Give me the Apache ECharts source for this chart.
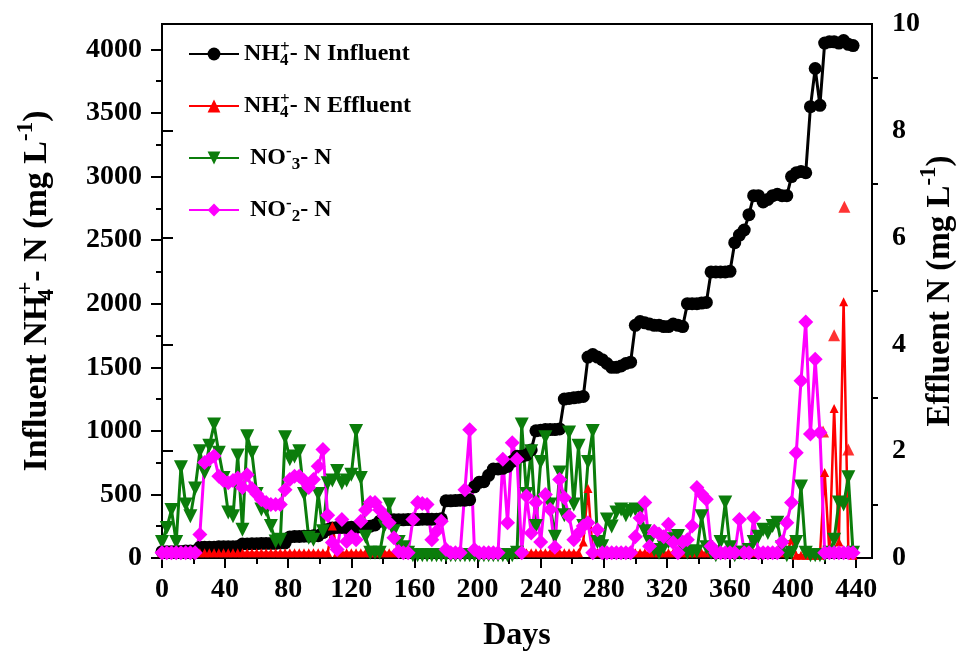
<!DOCTYPE html>
<html>
<head>
<meta charset="utf-8">
<script src="https://cdn.jsdelivr.net/npm/echarts@6/dist/echarts.min.js"></script>
<style>
html, body { margin: 0; padding: 0; background: #fff; }
#chart { width: 962px; height: 661px; }
</style>
</head>
<body>
<div id="chart"></div>
<script>
// sampling days (x)
var days = [
  0, 3, 6, 9, 12, 15, 18, 21, 24, 27,
  30, 33, 36, 39, 42, 45, 48, 51, 54, 57,
  60, 63, 66, 69, 72, 75, 78, 81, 84, 87,
  90, 93, 96, 99, 102, 105, 108, 111, 114, 117,
  120, 123, 126, 129, 132, 135, 138, 141, 144, 147,
  150, 153, 156, 159, 162, 165, 168, 171, 174, 177,
  180, 183, 186, 189, 192, 195, 198, 201, 204, 207,
  210, 213, 216, 219, 222, 225, 228, 231, 234, 237,
  240, 243, 246, 249, 252, 255, 258, 261, 264, 267,
  270, 273, 276, 279, 282, 285, 288, 291, 294, 297,
  300, 303, 306, 309, 312, 315, 318, 321, 324, 327,
  330, 333, 336, 339, 342, 345, 348, 351, 354, 357,
  360, 363, 366, 369, 372, 375, 378, 381, 384, 387,
  390, 393, 396, 399, 402, 405, 408, 411, 414, 417,
  420, 423, 426, 429, 432, 435, 438
];

// NH4+-N influent, mg/L (left axis)
var influentNH4 = [
  50, 50, 50, 52, 52, 55, 55, 55, 85, 85,
  85, 85, 88, 88, 88, 88, 90, 110, 110, 112,
  112, 115, 115, 115, 115, 118, 118, 165, 170, 170,
  172, 172, 175, 175, 200, 225, 235, 240, 240, 240,
  242, 242, 245, 245, 250, 260, 290, 295, 298, 300,
  300, 300, 302, 302, 302, 305, 305, 305, 305, 308,
  450, 450, 452, 455, 455, 458, 560, 595, 600, 650,
  700, 700, 705, 720, 760, 800, 800, 810, 850, 1000,
  1005, 1010, 1010, 1010, 1015, 1250, 1255, 1260, 1265, 1270,
  1580, 1600, 1580, 1560, 1530, 1500, 1500, 1510, 1530, 1540,
  1830, 1860, 1850, 1840, 1830, 1830, 1820, 1820, 1840, 1830,
  1820, 2000, 2000, 2000, 2005, 2010, 2250, 2250, 2250, 2250,
  2255, 2480, 2540, 2580, 2700, 2850, 2850, 2800, 2820, 2850,
  2860, 2850, 2850, 3000, 3030, 3040, 3030, 3550, 3850, 3560,
  4050, 4060, 4060, 4050, 4070, 4040, 4030
];

// NH4+-N effluent, mg/L (right axis)
var effluentNH4 = [
  0.1, 0.1, 0.1, 0.1, 0.1, 0.1, 0.1, 0.1, 0.1, 0.1,
  0.1, 0.1, 0.1, 0.1, 0.1, 0.1, 0.1, 0.1, 0.1, 0.1,
  0.1, 0.1, 0.1, 0.1, 0.1, 0.1, 0.1, 0.1, 0.1, 0.1,
  0.1, 0.1, 0.1, 0.1, 0.1, 0.1, 0.6, 0.1, 0.1, 0.1,
  0.1, 0.1, 0.1, 0.1, 0.1, 0.1, 0.1, 0.1, 0.1, 0.1,
  0.1, 0.1, 0.1, 0.1, 0.1, 0.1, 0.1, 0.1, 0.1, 0.1,
  0.1, 0.1, 0.1, 0.1, 0.1, 0.1, 0.1, 0.1, 0.1, 0.1,
  0.1, 0.1, 0.1, 0.1, 0.1, 0.1, 0.1, 0.1, 0.1, 0.1,
  0.1, 0.1, 0.1, 0.1, 0.1, 0.1, 0.1, 0.1, 0.1, 0.3,
  1.3, 0.1, 0.1, 0.1, 0.1, 0.1, 0.1, 0.1, 0.1, 0.1,
  0.1, 0.1, 0.1, 0.1, 0.1, 0.1, 0.1, 0.1, 0.1, 0.1,
  0.1, 0.1, 0.1, 0.1, 0.1, 0.1, 0.1, 0.1, 0.1, 0.1,
  0.1, 0.1, 0.1, 0.1, 0.1, 0.1, 0.1, 0.1, 0.1, 0.1,
  0.1, 0.1, 0.1, 0.34, 0.05, 0.05, 0.05, 0.05, 0.05, 0.05,
  1.6, 0.1, 2.8, 0.3, 4.8, 0.1, 0.05
];

// isolated effluent NH4+ points near the end
var effluentPeakDays = [419, 426, 432.5, 435];
var effluentPeakValues = [2.37, 4.17, 6.58, 2.03];

// NO3- -N, mg/L (right axis)
var nitrate = [
  0.3, 0.56, 0.9, 0.3, 1.7, 1.0, 0.78, 1.3, 2.0, 1.6,
  2.1, 2.5, 1.97, 1.5, 0.85, 0.78, 1.92, 0.53, 2.28, 1.97,
  1.2, 0.91, 0.9, 0.6, 0.31, 0.34, 2.26, 1.85, 1.9, 2.0,
  1.2, 0.38, 0.34, 1.2, 0.5, 1.4, 1.45, 1.63, 1.4, 1.45,
  1.56, 2.38, 1.5, 0.4, 0.1, 0.1, 0.1, 0.6, 1.0, 0.5,
  0.3, 0.2, 0.1, 0.05, 0.05, 0.05, 0.05, 0.05, 0.05, 0.05,
  0.05, 0.05, 0.05, 0.05, 0.05, 0.05, 0.05, 0.05, 0.05, 0.05,
  0.05, 0.05, 0.05, 0.05, 0.05, 0.1, 2.5, 1.2, 2.0, 0.6,
  1.8, 2.26, 1.0, 0.4, 1.6, 0.8, 2.35, 1.0, 2.1, 0.6,
  1.8, 2.38, 0.3, 0.22, 0.72, 0.59, 0.85, 0.91, 0.8, 0.88,
  0.91, 0.9, 0.5, 0.3, 0.15, 0.1, 0.2, 0.3, 0.35, 0.41,
  0.2, 0.1, 0.12, 0.12, 0.78, 0.2, 0.1, 0.05, 0.3, 1.04,
  0.2, 0.05, 0.1, 0.1, 0.15, 0.3, 0.4, 0.53, 0.47, 0.6,
  0.66, 0.2, 0.05, 0.1, 0.3, 1.34, 0.1, 0.05, 0.05, 0.05,
  0.05, 0.1, 0.34, 1.04, 1.0, 1.51, 0.1
];

// NO2- -N, mg/L (right axis)
var nitrite = [
  0.1, 0.1, 0.1, 0.1, 0.1, 0.1, 0.1, 0.1, 0.44, 1.79,
  1.85, 1.91, 1.53, 1.45, 1.41, 1.45, 1.5, 1.32, 1.56, 1.3,
  1.2, 1.09, 1.04, 1.0, 1.0, 1.0, 1.28, 1.47, 1.53, 1.53,
  1.45, 1.32, 1.47, 1.72, 2.03, 0.8, 0.29, 0.16, 0.72, 0.31,
  0.4, 0.34, 0.69, 0.9, 1.04, 1.04, 0.9, 0.78, 0.66, 0.38,
  0.12, 0.1, 0.1, 0.72, 1.04, 1.02, 1.0, 0.34, 0.5, 0.69,
  0.16, 0.1, 0.1, 0.1, 1.28, 2.4, 0.16, 0.1, 0.1, 0.1,
  0.1, 0.1, 1.85, 0.66, 2.16, 1.85, 0.1, 1.16, 0.47, 1.04,
  0.3, 1.19, 0.91, 0.2, 1.47, 1.13, 0.78, 0.34, 0.47, 0.6,
  0.66, 0.1, 0.53, 0.1, 0.1, 0.1, 0.1, 0.1, 0.1, 0.1,
  0.4, 0.75, 1.04, 0.22, 0.5, 0.45, 0.4, 0.63, 0.29, 0.1,
  0.3, 0.34, 0.6, 1.32, 1.2, 1.1, 0.22, 0.1, 0.1, 0.1,
  0.1, 0.1, 0.72, 0.1, 0.1, 0.75, 0.1, 0.1, 0.1, 0.1,
  0.1, 0.3, 0.66, 1.04, 1.97, 3.32, 4.42, 2.32, 3.72, 2.35,
  0.1, 0.1, 0.1, 0.1, 0.1, 0.1, 0.1
];

// tick values
var xMajorTicks = [0, 40, 80, 120, 160, 200, 240, 280, 320, 360, 400, 440];
var xMinorTicks = [20, 60, 100, 140, 180, 220, 260, 300, 340, 380, 420];
var leftMajorTicks = [0, 500, 1000, 1500, 2000, 2500, 3000, 3500, 4000];
var leftMinorTicks = [250, 750, 1250, 1750, 2250, 2750, 3250, 3750];
var rightMajorTicks = [0, 2, 4, 6, 8, 10];
var rightMinorTicks = [1, 3, 5, 7, 9];

var FONT = '"Liberation Serif", "Times New Roman", serif';

var pairs = function(xs, ys) {
	return xs.map(function(x, i) { return [x, ys[i]]; });
};

// rich text pieces for sub/superscripts
var richFor = function(sub) {
	return {
		sp: { fontFamily: FONT, fontWeight: 'bold', fontSize: sub, lineHeight: sub, verticalAlign: 'top', color: '#000' },
		sb: { fontFamily: FONT, fontWeight: 'bold', fontSize: sub, lineHeight: sub, verticalAlign: 'bottom', color: '#000' },
		s4: { fontFamily: FONT, fontWeight: 'bold', fontSize: sub, lineHeight: sub, verticalAlign: 'bottom', width: 0, color: '#000' }
	};
};

var legendText = {
	'influent': 'NH{s4|4}{sp|+}- N Influent',
	'effluent': 'NH{s4|4}{sp|+}- N Effluent',
	'no3': ' NO{sp|-}{sb|3}- N',
	'no2': ' NO{sp|-}{sb|2}- N'
};

var plain = function(v) { return String(v); };
var labelStyle = { fontFamily: FONT, fontWeight: 'bold', fontSize: 28, color: '#000', formatter: plain };
var blackLine = { color: '#000', width: 2 };

var chart = echarts.init(document.getElementById('chart'));
chart.setOption({
	animation: false,
	backgroundColor: '#fff',
	grid: {
		left: 162, right: 90, top: 24, bottom: 103,
		show: true, borderColor: '#000', borderWidth: 2, backgroundColor: 'transparent',
		outerBoundsMode: 'none'
	},
	legend: {
		data: ['influent', 'effluent', 'no3', 'no2'],
		orient: 'vertical',
		left: 188, top: 39, padding: 0,
		itemWidth: 50, itemHeight: 16, itemGap: 22,
		selectedMode: false,
		formatter: function(name) { return legendText[name]; },
		textStyle: {
			fontFamily: FONT, fontWeight: 'bold', fontSize: 24, lineHeight: 30, color: '#000',
			rich: richFor(17)
		}
	},
	xAxis: [
		{
			type: 'value', min: 0, max: 450, interval: 40, position: 'bottom',
			name: 'Days', nameLocation: 'middle', nameGap: 62, nameMoveOverlap: false,
			nameTextStyle: { fontFamily: FONT, fontWeight: 'bold', fontSize: 32, color: '#000' },
			axisLine: { onZero: false, lineStyle: blackLine },
			axisTick: { length: 10, lineStyle: blackLine, customValues: xMajorTicks },
			axisLabel: Object.assign({ margin: 18, customValues: xMajorTicks }, labelStyle),
			splitLine: { show: false }
		},
		{
			type: 'value', min: 0, max: 450, interval: 20, position: 'bottom',
			axisLine: { show: false, onZero: false },
			axisTick: { length: 6, lineStyle: blackLine, customValues: xMinorTicks },
			axisLabel: { show: false },
			splitLine: { show: false }
		}
	],
	yAxis: [
		{
			type: 'value', min: 0, max: 4200, interval: 500, position: 'left',
			name: 'Influent NH{s4|4}{sp|+}- N (mg L{sp|-1})',
			nameLocation: 'middle', nameRotate: 90, nameGap: 103, nameMoveOverlap: false,
			nameTextStyle: {
				fontFamily: FONT, fontWeight: 'bold', fontSize: 34, lineHeight: 44, color: '#000',
				rich: richFor(23)
			},
			axisLine: { show: true, lineStyle: blackLine },
			axisTick: { show: true, length: 11, lineStyle: blackLine, customValues: leftMajorTicks },
			axisLabel: Object.assign({ margin: 20, customValues: leftMajorTicks }, labelStyle),
			splitLine: { show: false }
		},
		{
			type: 'value', min: 0, max: 10, interval: 2, position: 'right',
			name: 'Effluent N (mg L{sp|-1})',
			nameLocation: 'middle', nameRotate: 90, nameGap: 46, nameMoveOverlap: false,
			nameTextStyle: {
				fontFamily: FONT, fontWeight: 'bold', fontSize: 33, lineHeight: 44, color: '#000',
				rich: richFor(23)
			},
			axisLine: { show: true, lineStyle: blackLine },
			axisTick: { show: true, length: 11, lineStyle: blackLine, customValues: rightMajorTicks },
			axisLabel: Object.assign({ margin: 20, customValues: rightMajorTicks }, labelStyle),
			splitLine: { show: false }
		},
		{
			type: 'value', min: 0, max: 4200, interval: 250, position: 'left',
			axisLine: { show: false },
			axisTick: { show: true, length: 6, lineStyle: blackLine, customValues: leftMinorTicks },
			axisLabel: { show: false },
			splitLine: { show: false }
		},
		{
			type: 'value', min: 0, max: 10, interval: 1, position: 'right',
			axisLine: { show: false },
			axisTick: { show: true, length: 6, lineStyle: blackLine, customValues: rightMinorTicks },
			axisLabel: { show: false },
			splitLine: { show: false }
		}
	],
	series: [
		{
			name: 'influent', type: 'line', xAxisIndex: 0, yAxisIndex: 0,
			data: pairs(days, influentNH4),
			symbol: 'circle', symbolSize: 13,
			itemStyle: { color: '#000' },
			lineStyle: { color: '#000', width: 3 }
		},
		{
			name: 'effluent', type: 'line', xAxisIndex: 0, yAxisIndex: 1,
			data: pairs(days, effluentNH4),
			symbol: 'triangle', symbolSize: 9,
			itemStyle: { color: '#ff0000' },
			lineStyle: { color: '#ff0000', width: 2.5 }
		},
		{
			name: 'effluent peaks', type: 'scatter', xAxisIndex: 0, yAxisIndex: 1,
			data: pairs(effluentPeakDays, effluentPeakValues),
			symbol: 'triangle', symbolSize: 12,
			itemStyle: { color: '#ff0000' }
		},
		{
			name: 'no3', type: 'line', xAxisIndex: 0, yAxisIndex: 1,
			data: pairs(days, nitrate),
			symbol: 'triangle', symbolRotate: 180, symbolSize: 14,
			itemStyle: { color: '#0b7d0b' },
			lineStyle: { color: '#0b7d0b', width: 3 }
		},
		{
			name: 'no2', type: 'line', xAxisIndex: 0, yAxisIndex: 1,
			data: pairs(days, nitrite),
			symbol: 'diamond', symbolSize: 15,
			itemStyle: { color: '#ff00ff' },
			lineStyle: { color: '#ff00ff', width: 3 }
		}
	]
});
</script>
</body>
</html>
